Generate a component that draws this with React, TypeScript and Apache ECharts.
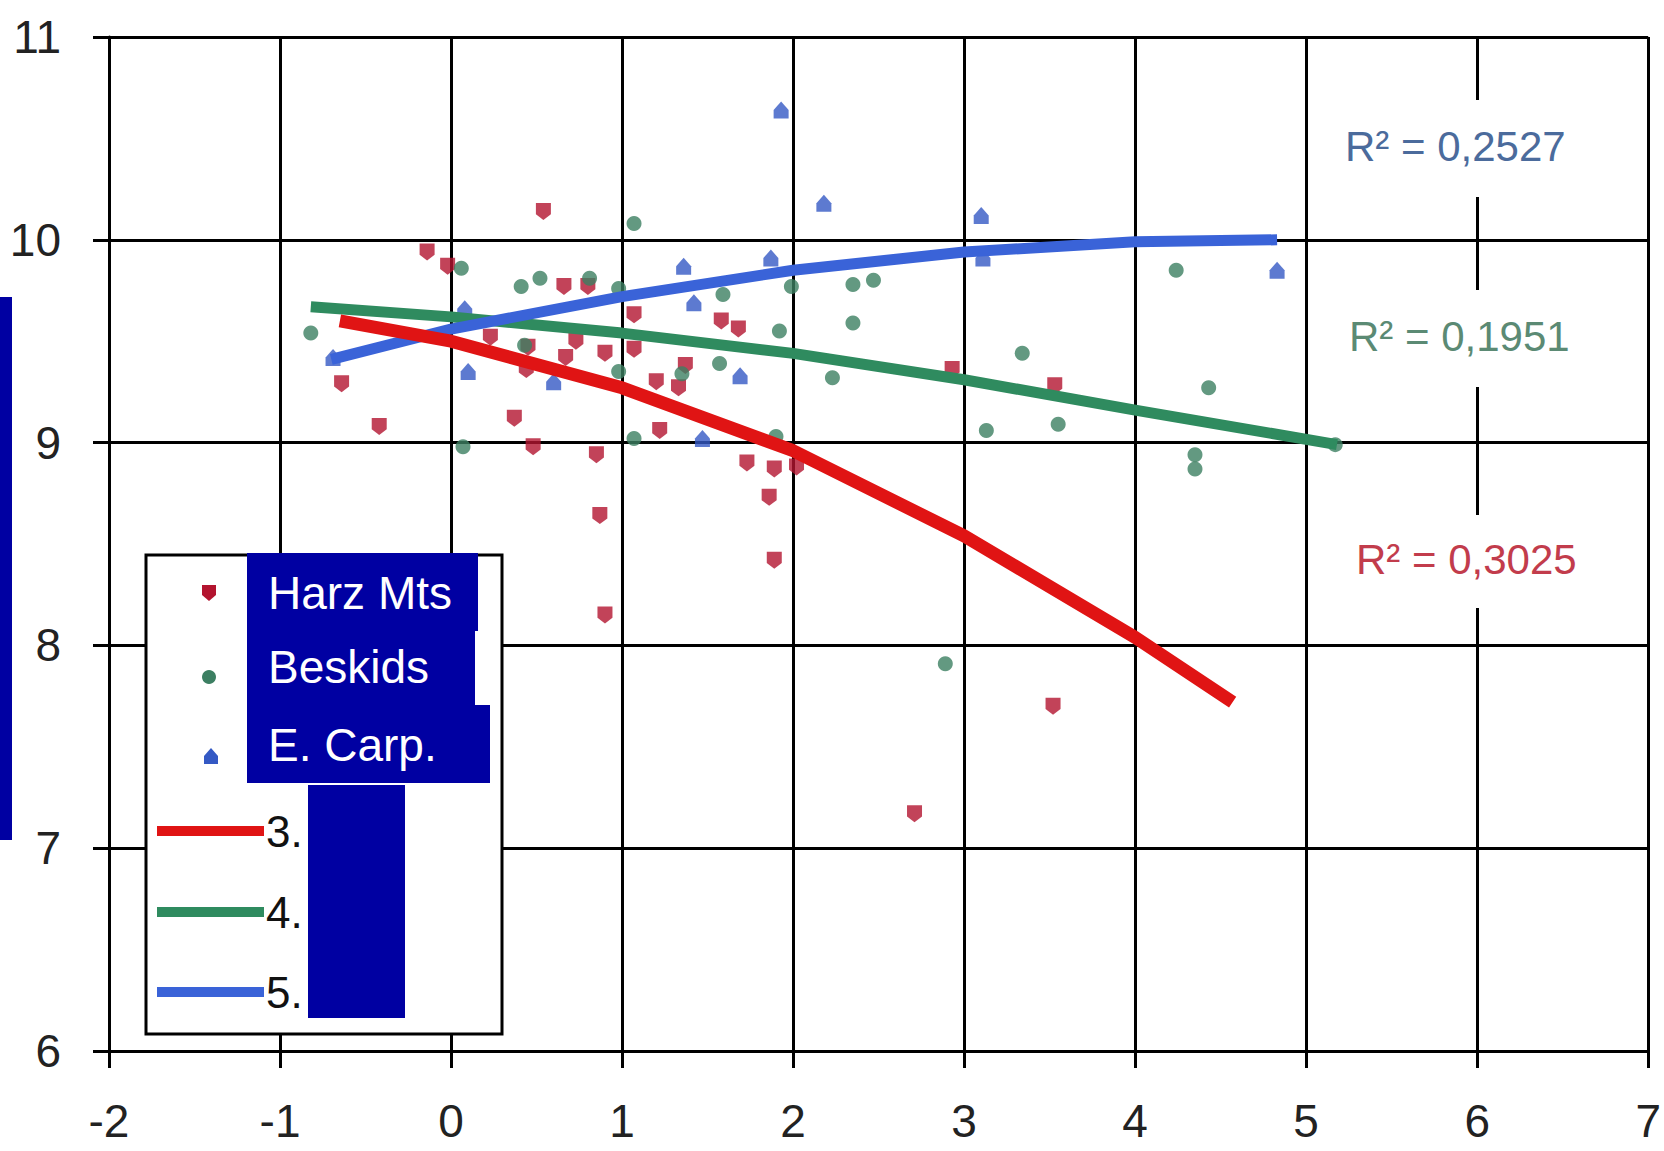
import { useEffect, useRef } from 'react';
import * as echarts from 'echarts';

// ---- data ----
const harzX = [-0.64, -0.42, -0.14, -0.02, 0.23, 0.37, 0.44, 0.45, 0.48, 0.54, 0.66, 0.67, 0.73, 0.8, 0.85, 0.87, 0.9, 0.9, 1.07, 1.07, 1.2, 1.22, 1.33, 1.37, 1.58, 1.68, 1.73, 1.86, 1.89, 1.89, 2.02, 2.71, 2.93, 3.53, 3.52];
const harzY = [9.29, 9.08, 9.94, 9.87, 9.52, 9.12, 9.36, 9.47, 8.98, 10.14, 9.77, 9.42, 9.5, 9.77, 8.94, 8.64, 8.15, 9.44, 9.63, 9.46, 9.3, 9.06, 9.27, 9.38, 9.6, 9.56, 8.9, 8.73, 8.87, 8.42, 8.88, 7.17, 9.36, 9.28, 7.7];

const beskX = [-0.82, 0.06, 0.07, 0.41, 0.43, 0.52, 0.81, 0.98, 0.98, 1.07, 1.07, 1.35, 1.57, 1.59, 1.92, 1.9, 1.99, 2.23, 2.35, 2.35, 2.47, 2.89, 3.13, 3.34, 3.55, 4.24, 4.35, 4.35, 4.43, 5.17];
const beskY = [9.54, 9.86, 8.98, 9.77, 9.48, 9.81, 9.81, 9.76, 9.35, 10.08, 9.02, 9.34, 9.39, 9.73, 9.55, 9.03, 9.77, 9.32, 9.78, 9.59, 9.8, 7.91, 9.06, 9.44, 9.09, 9.85, 8.94, 8.87, 9.27, 8.99];

const carpX = [-0.69, 0.08, 0.1, 0.6, 1.36, 1.42, 1.47, 1.69, 1.87, 1.93, 2.18, 3.1, 3.11, 4.83];
const carpY = [9.42, 9.66, 9.35, 9.3, 9.87, 9.69, 9.02, 9.33, 9.91, 10.64, 10.18, 10.12, 9.91, 9.85];

// trend lines
const harzTrendX = [-0.65, 0, 1, 2, 3, 4, 4.57];
const harzTrendY = [9.6, 9.5, 9.27, 8.96, 8.54, 8.04, 7.72];
const beskTrendX = [-0.82, 0, 1, 2, 3, 4, 5.18];
const beskTrendY = [9.67, 9.62, 9.54, 9.44, 9.31, 9.16, 8.99];
const carpTrendX = [-0.7, 0, 1, 2, 3, 4, 4.83];
const carpTrendY = [9.41, 9.56, 9.72, 9.85, 9.94, 9.99, 10.0];

const seriesNames = ['Harz Mts', 'Beskids', 'E. Carp.'];
const trendNames = ['3.', '4.', '5.'];
const r2Texts = ['R² = 0,2527', 'R² = 0,1951', 'R² = 0,3025'];

const xMin = -2, xMax = 7, yMin = 6, yMax = 11;

const zip = (xs: number[], ys: number[]) => xs.map((x, i) => [x, ys[i]]);

const RED_M = '#b3142f', GREEN_M = '#3c7f62', BLUE_M = '#3459c4';
const RED_L = '#e01414', GREEN_L = '#2f8b5f', BLUE_L = '#3a63d8';
const OVER = '#0000a2';
const FONT = 'Liberation Sans, Arial, sans-serif';

export default function App() {
  const ref = useRef<HTMLDivElement>(null);
  useEffect(() => {
    if (!ref.current) return;
    const chart = echarts.init(ref.current, undefined, { renderer: 'svg' });
    const axisCommon = {
      type: 'value' as const,
      interval: 1,
      axisLine: { show: true, onZero: false, lineStyle: { color: '#000', width: 3 } },
      axisTick: { show: true, lineStyle: { color: '#000', width: 3 } },
      splitLine: { show: true, lineStyle: { color: '#000', width: 3 } },
      axisLabel: { fontSize: 46, color: '#222', fontFamily: FONT },
    };
    const legendY = [593, 677, 757];
    const textY = [593, 667, 745];
    const lineY = [831, 912, 992];
    const lineCols = [RED_L, GREEN_L, BLUE_L];
    const graphics: any[] = [
      { type: 'rect', z: 100, shape: { x: 146, y: 555, width: 356, height: 479 }, style: { fill: '#fff', stroke: '#000', lineWidth: 3 } },
      { type: 'polygon', z: 101, shape: { points: [[202, 585], [216, 585], [216, 595], [209, 601], [202, 595]] }, style: { fill: RED_M } },
      { type: 'circle', z: 101, shape: { cx: 209, cy: legendY[1], r: 7 }, style: { fill: GREEN_M } },
      { type: 'polygon', z: 101, shape: { points: [[211, 748], [218, 756], [218, 764], [204, 764], [204, 756]] }, style: { fill: BLUE_M } },
      // overlay boxes
      { type: 'rect', z: 110, shape: { x: 247, y: 553, width: 231, height: 78 }, style: { fill: OVER } },
      { type: 'rect', z: 110, shape: { x: 247, y: 631, width: 228, height: 74 }, style: { fill: OVER } },
      { type: 'rect', z: 110, shape: { x: 247, y: 705, width: 243, height: 78 }, style: { fill: OVER } },
      { type: 'rect', z: 110, shape: { x: 308, y: 785, width: 97, height: 233 }, style: { fill: OVER } },
      { type: 'rect', z: 110, shape: { x: 0, y: 297, width: 12, height: 543 }, style: { fill: OVER } },
      // R² label backgrounds
      { type: 'rect', z: 50, shape: { x: 1336, y: 100, width: 238, height: 97 }, style: { fill: '#fff' } },
      { type: 'rect', z: 50, shape: { x: 1340, y: 290, width: 234, height: 97 }, style: { fill: '#fff' } },
      { type: 'rect', z: 50, shape: { x: 1346, y: 515, width: 240, height: 93 }, style: { fill: '#fff' } },
    ];
    seriesNames.forEach((n, i) => {
      graphics.push({ type: 'text', z: 111, style: { x: 268, y: textY[i], text: n, fill: '#fff', font: `46px ${FONT}`, textAlign: 'left', textVerticalAlign: 'middle' } });
    });
    trendNames.forEach((n, i) => {
      graphics.push({ type: 'line', z: 101, shape: { x1: 157, y1: lineY[i], x2: 264, y2: lineY[i] }, style: { stroke: lineCols[i], lineWidth: 10 } });
      graphics.push({ type: 'text', z: 101, style: { x: 266, y: lineY[i], text: n, fill: '#111', font: `44px ${FONT}`, textAlign: 'left', textVerticalAlign: 'middle' } });
    });
    const r2Pos = [[1345, 146, '#4b6b9c'], [1349, 336, '#5b8a74'], [1356, 559, '#c23c4c']];
    r2Texts.forEach((t, i) => {
      graphics.push({ type: 'text', z: 51, style: { x: r2Pos[i][0], y: r2Pos[i][1], text: t, fill: r2Pos[i][2], font: `42px ${FONT}`, textAlign: 'left', textVerticalAlign: 'middle' } });
    });

    chart.setOption({
      animation: false,
      backgroundColor: '#fff',
      grid: { left: 109, right: 12, top: 37, bottom: 100, containLabel: false },
      xAxis: { ...axisCommon, min: xMin, max: xMax, axisTick: { ...axisCommon.axisTick, length: 17 }, axisLabel: { ...axisCommon.axisLabel, margin: 47 } },
      yAxis: { ...axisCommon, min: yMin, max: yMax, axisTick: { ...axisCommon.axisTick, length: 16 }, axisLabel: { ...axisCommon.axisLabel, margin: 48 } },
      series: [
        { name: seriesNames[0], type: 'scatter', z: 3, symbol: 'path://M0,0 L10,0 L10,8 L5,12 L0,8 Z', symbolSize: [15, 17], itemStyle: { color: RED_M }, data: zip(harzX, harzY) },
        { name: seriesNames[1], type: 'scatter', z: 3, symbol: 'circle', symbolSize: 15, itemStyle: { color: GREEN_M }, data: zip(beskX, beskY) },
        { name: seriesNames[2], type: 'scatter', z: 3, symbol: 'path://M5,0 L10,6 L10,12 L0,12 L0,6 Z', symbolSize: [15, 17], itemStyle: { color: BLUE_M }, data: zip(carpX, carpY) },
        { name: trendNames[1], type: 'line', z: 4, smooth: false, showSymbol: false, lineStyle: { color: GREEN_L, width: 11, cap: 'butt', join: 'round' }, data: zip(beskTrendX, beskTrendY) },
        { name: trendNames[2], type: 'line', z: 5, smooth: false, showSymbol: false, lineStyle: { color: BLUE_L, width: 11, cap: 'butt', join: 'round' }, data: zip(carpTrendX, carpTrendY) },
        { name: trendNames[0], type: 'line', z: 6, smooth: false, showSymbol: false, lineStyle: { color: RED_L, width: 13, cap: 'butt', join: 'round' }, data: zip(harzTrendX, harzTrendY) },
      ],
      graphic: graphics,
    });
    return () => chart.dispose();
  }, []);
  return <div ref={ref} style={{ position: 'fixed', left: 0, top: 0, width: 1664, height: 1151, background: '#fff' }} />;
}
